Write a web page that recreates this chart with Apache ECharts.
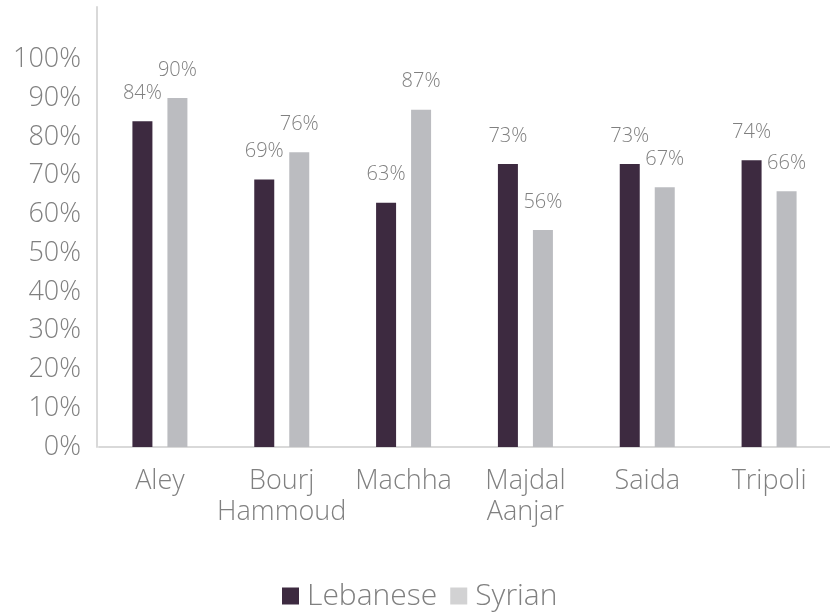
<!DOCTYPE html>
<html>
<head>
<meta charset="utf-8">
<script src="https://cdn.jsdelivr.net/npm/echarts@6/dist/echarts.min.js"></script>
<style>
  html, body { margin: 0; padding: 0; background: #ffffff; }
  #chart { width: 830px; height: 614px; }
</style>
</head>
<body>
<div id="chart"></div>
<script>
// Share by location and nationality
const categories = ['Aley', 'Bourj\nHammoud', 'Machha', 'Majdal\nAanjar', 'Saida', 'Tripoli'];
const lebanese = [0.84, 0.69, 0.63, 0.73, 0.73, 0.74];
const syrian = [0.90, 0.76, 0.87, 0.56, 0.67, 0.66];
const yTicks = [0, 0.1, 0.2, 0.3, 0.4, 0.5, 0.6, 0.7, 0.8, 0.9, 1.0];

const FONT = '"Open Sans", "DejaVu Sans", sans-serif';
const TEXT = '#808080';
const pct = v => Math.round(v * 100) + '%';

const chart = echarts.init(document.getElementById('chart'), null, { renderer: 'canvas' });

chart.setOption({
  backgroundColor: '#ffffff',
  animation: false,
  textStyle: { fontFamily: FONT, fontWeight: 300, color: TEXT },
  grid: { left: 99, top: 7, width: 738, height: 440 },
  legend: {
    bottom: -2,
    left: 277,
    itemWidth: 17,
    itemHeight: 17,
    itemGap: 13,
    icon: 'rect',
    textStyle: { fontFamily: FONT, fontWeight: 300, fontSize: 30, color: TEXT, padding: [0, 0, 0, 3] },
    data: [
      { name: 'Lebanese', itemStyle: { color: '#3d2a40' } },
      { name: 'Syrian', itemStyle: { color: '#d2d2d3' } }
    ]
  },
  xAxis: {
    type: 'category',
    data: categories,
    axisLine: { show: true, lineStyle: { color: '#d9d9d9', width: 2 } },
    axisTick: { show: false },
    axisLabel: {
      fontFamily: FONT, fontWeight: 300, fontSize: 27, color: TEXT,
      lineHeight: 31, margin: 19, interval: 0
    }
  },
  yAxis: {
    type: 'value',
    min: 0,
    max: 1.135,
    interval: 0.1,
    offset: 2,
    splitLine: { show: false },
    axisLine: { show: true, lineStyle: { color: '#d9d9d9', width: 2 } },
    axisTick: { show: false },
    axisLabel: {
      fontFamily: FONT, fontWeight: 300, fontSize: 27, color: TEXT, margin: 16,
      formatter: v => {
        const t = yTicks.find(k => Math.abs(k - v) < 1e-6);
        return t === undefined ? '' : pct(t);
      }
    }
  },
  series: [
    {
      name: 'Lebanese',
      type: 'bar',
      data: lebanese,
      barWidth: 20,
      barGap: '75%',
      itemStyle: { color: '#3d2a40' },
      label: {
        show: true, position: 'top', distance: 18,
        fontFamily: FONT, fontWeight: 300, fontSize: 20, color: TEXT,
        formatter: p => pct(p.value)
      }
    },
    {
      name: 'Syrian',
      type: 'bar',
      data: syrian,
      barWidth: 20,
      itemStyle: { color: '#bbbcc0' },
      label: {
        show: true, position: 'top', distance: 18,
        fontFamily: FONT, fontWeight: 300, fontSize: 20, color: TEXT,
        formatter: p => pct(p.value)
      }
    }
  ]
});
</script>
</body>
</html>
